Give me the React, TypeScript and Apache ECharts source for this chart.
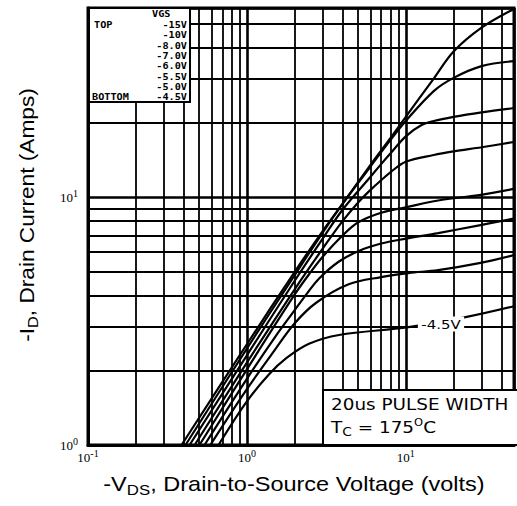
import React, { useEffect, useRef } from 'react';
import * as echarts from 'echarts';

// Gate-source voltages (legend, top to bottom)
const vgsLabels = ['-15V', '-10V', '-8.0V', '-7.0V', '-6.0V', '-5.5V', '-5.0V', '-4.5V'];

// Curves: [ -VDS (V), -ID (A) ]
const curve15V = [[0.388, 1], [1, 2.55], [2, 5.0], [3, 7.3], [4, 9.4], [6, 13.5], [8, 17.3], [10, 21.1], [15, 30.1], [20, 38.7], [30, 48.3], [48, 57.5]];
const curve10V = [[0.411, 1], [1, 2.45], [2, 4.85], [3, 7.2], [4, 9.4], [6, 13.3], [8, 17.0], [10, 20.3], [15, 26.8], [20, 30.3], [30, 33.8], [48, 35.4]];
const curve8V = [[0.436, 1], [1, 2.3], [2, 4.6], [3, 6.8], [4, 8.9], [6, 12.1], [7, 13.6], [8, 15.0], [10, 17.6], [12.5, 19.5], [15, 20.3], [20, 21.1], [30, 22.0], [48, 22.9]];
const curve7V = [[0.469, 1], [1, 2.15], [2, 4.25], [3, 6.2], [4, 8.0], [5, 9.5], [6, 10.7], [7, 11.7], [8, 12.6], [10, 13.9], [15, 14.8], [20, 15.3], [30, 15.9], [48, 16.7]];
const curve6V = [[0.503, 1], [1, 2.02], [2, 4.05], [2.5, 4.95], [3, 5.75], [4, 7.0], [5, 7.9], [7, 8.65], [10, 9.1], [16, 9.7], [29, 10.2], [48, 10.8]];
const curve5_5V = [[0.541, 1], [1, 1.85], [1.5, 2.72], [2, 3.5], [2.4, 4.1], [2.85, 4.7], [3.8, 5.5], [5.1, 6.08], [7, 6.5], [10, 6.8], [16, 7.16], [29, 7.7], [48, 8.2]];
const curve5V = [[0.589, 1], [1, 1.68], [1.5, 2.42], [2, 3.1], [2.73, 3.75], [4.37, 4.45], [7, 4.76], [10.4, 4.94], [16, 5.08], [29, 5.42], [48, 5.84]];
const curve4_5V = [[0.663, 1], [1, 1.5], [1.38, 1.93], [1.77, 2.24], [2.46, 2.56], [3.8, 2.78], [10.4, 2.99], [23.8, 3.28], [48, 3.63]];

const curves = [curve15V, curve10V, curve8V, curve7V, curve6V, curve5_5V, curve5V, curve4_5V];

// Axis ranges and minor grid values
const xRange = [0.1, 48];
const yRange = [1, 58];
const xMinor = [0.2, 0.3, 0.4, 0.5, 0.6, 0.7, 0.8, 0.9, 2, 3, 4, 5, 6, 7, 8, 9, 20, 30, 40];
const yMinor = [2, 3, 4, 5, 6, 7, 8, 9, 20, 30, 40, 50];

const decadeLabel = (v: number) => {
  const e = Math.log10(v);
  const r = Math.round(e);
  if (Math.abs(e - r) > 1e-6) return '';
  return `10{s|${r}}`;
};

const tickRich = {
  s: { fontSize: 10, fontFamily: 'Liberation Serif', color: '#000', padding: [0, 0, 8, 0] },
};

export default function App() {
  const ref = useRef<HTMLDivElement>(null);
  useEffect(() => {
    const chart = echarts.init(ref.current!, null, { renderer: 'svg' });
    const series: any[] = curves.map((c, i) => ({
      type: 'line',
      name: vgsLabels[i],
      data: c,
      smooth: 0.35,
      symbol: 'none',
      showSymbol: false,
      silent: true,
      z: 3,
      lineStyle: { color: '#000', width: 2.2 },
    }));
    series.push({
      type: 'line',
      data: [[xRange[0], yRange[0]]],
      symbol: 'none',
      silent: true,
      z: 1,
      lineStyle: { width: 0 },
      markLine: {
        silent: true,
        symbol: ['none', 'none'],
        label: { show: false },
        lineStyle: { color: '#000', width: 1.8, type: 'solid' },
        emphasis: { disabled: true },
        data: [
          ...xMinor.map((v) => ({ xAxis: v })),
          ...yMinor.map((v) => ({ yAxis: v })),
        ],
      },
    });

    const monoStyle = { fontFamily: 'DejaVu Sans Mono', fontWeight: 'bold', fontSize: 8.5, fill: '#000', textVerticalAlign: 'middle' };
    const legendRows = vgsLabels.map((t, i) => ({
      type: 'text',
      z: 11,
      x: 187,
      y: 25 + i * 10.3,
      scaleX: 1.2,
      style: { ...monoStyle, text: t, textAlign: 'right' },
    }));

    const labelBase = { fontSize: 13, fontFamily: 'Liberation Serif', color: '#000', formatter: decadeLabel, rich: tickRich };

    chart.setOption({
      animation: false,
      backgroundColor: '#fff',
      grid: { left: 88, right: 1, top: 8, bottom: 61, show: true, borderColor: '#000', borderWidth: 3, backgroundColor: 'transparent' },
      xAxis: {
        type: 'log',
        logBase: 10,
        min: xRange[0],
        max: xRange[1],
        axisLine: { show: true, lineStyle: { color: '#000', width: 3 } },
        axisTick: { show: false },
        splitLine: { show: true, lineStyle: { color: '#000', width: 2.6 } },
        axisLabel: { ...labelBase, margin: 3 },
      },
      yAxis: {
        type: 'log',
        logBase: 10,
        min: yRange[0],
        max: yRange[1],
        axisLine: { show: true, lineStyle: { color: '#000', width: 3 } },
        axisTick: { show: false },
        splitLine: { show: true, lineStyle: { color: '#000', width: 2.6 } },
        axisLabel: { ...labelBase, margin: 10 },
      },
      series,
      graphic: [
        // legend box
        { type: 'rect', z: 10, shape: { x: 89, y: 8, width: 101, height: 94 }, style: { fill: '#fff', stroke: '#000', lineWidth: 2 } },
        { type: 'text', z: 11, x: 152, y: 14, scaleX: 1.2, style: { ...monoStyle, text: 'VGS', textAlign: 'left' } },
        { type: 'text', z: 11, x: 94, y: 25, scaleX: 1.2, style: { ...monoStyle, text: 'TOP', textAlign: 'left' } },
        { type: 'text', z: 11, x: 92, y: 97, scaleX: 1.2, style: { ...monoStyle, text: 'BOTTOM', textAlign: 'left' } },
        ...legendRows,
        // pulse note box
        { type: 'rect', z: 10, shape: { x: 323, y: 390, width: 200, height: 55 }, style: { fill: '#fff', stroke: '#000', lineWidth: 2 } },
        {
          type: 'text', z: 11, x: 331, y: 404, scaleX: 1.15,
          style: { text: '20us PULSE WIDTH', fontFamily: 'DejaVu Sans', fontSize: 16, fill: '#000', textAlign: 'left', textVerticalAlign: 'middle' },
        },
        {
          type: 'text', z: 11, x: 331, y: 427, scaleX: 1.15,
          style: {
            text: 'T{sub|C} = 175{sup|O}C',
            fontFamily: 'DejaVu Sans', fontSize: 16, fill: '#000', textAlign: 'left', textVerticalAlign: 'middle',
            rich: {
              sub: { fontFamily: 'DejaVu Sans', fontSize: 12, padding: [9, 0, 0, 0], fill: '#000' },
              sup: { fontFamily: 'DejaVu Sans', fontSize: 10, padding: [0, 0, 9, 0], fill: '#000' },
            },
          },
        },
        // curve label
        {
          type: 'text', z: 11, x: 441, y: 324, scaleX: 1.15,
          style: { text: '-4.5V', fontFamily: 'DejaVu Sans', fontSize: 13, fill: '#000', textAlign: 'center', textVerticalAlign: 'middle', backgroundColor: '#fff', padding: [1, 3, 1, 3] },
        },
        // axis names
        {
          type: 'text', z: 11, x: 294, y: 484, scaleX: 1.12,
          style: {
            text: '-V{sub|DS}, Drain-to-Source Voltage (volts)',
            fontFamily: 'Liberation Sans', fontSize: 21, fill: '#000', textAlign: 'center', textVerticalAlign: 'middle',
            rich: { sub: { fontFamily: 'Liberation Sans', fontSize: 15, padding: [12, 0, 0, 0], fill: '#000' } },
          },
        },
        {
          type: 'text', z: 11, x: 27, y: 215, rotation: Math.PI / 2, scaleX: 1.08,
          style: {
            text: '-I{sub|D}, Drain Current (Amps)',
            fontFamily: 'Liberation Sans', fontSize: 21, fill: '#000', textAlign: 'center', textVerticalAlign: 'middle',
            rich: { sub: { fontFamily: 'Liberation Sans', fontSize: 15, padding: [12, 0, 0, 0], fill: '#000' } },
          },
        },
      ],
    });
    return () => chart.dispose();
  }, []);
  return <div ref={ref} style={{ position: 'fixed', left: 0, top: 0, width: 517, height: 506, background: '#fff' }} />;
}
